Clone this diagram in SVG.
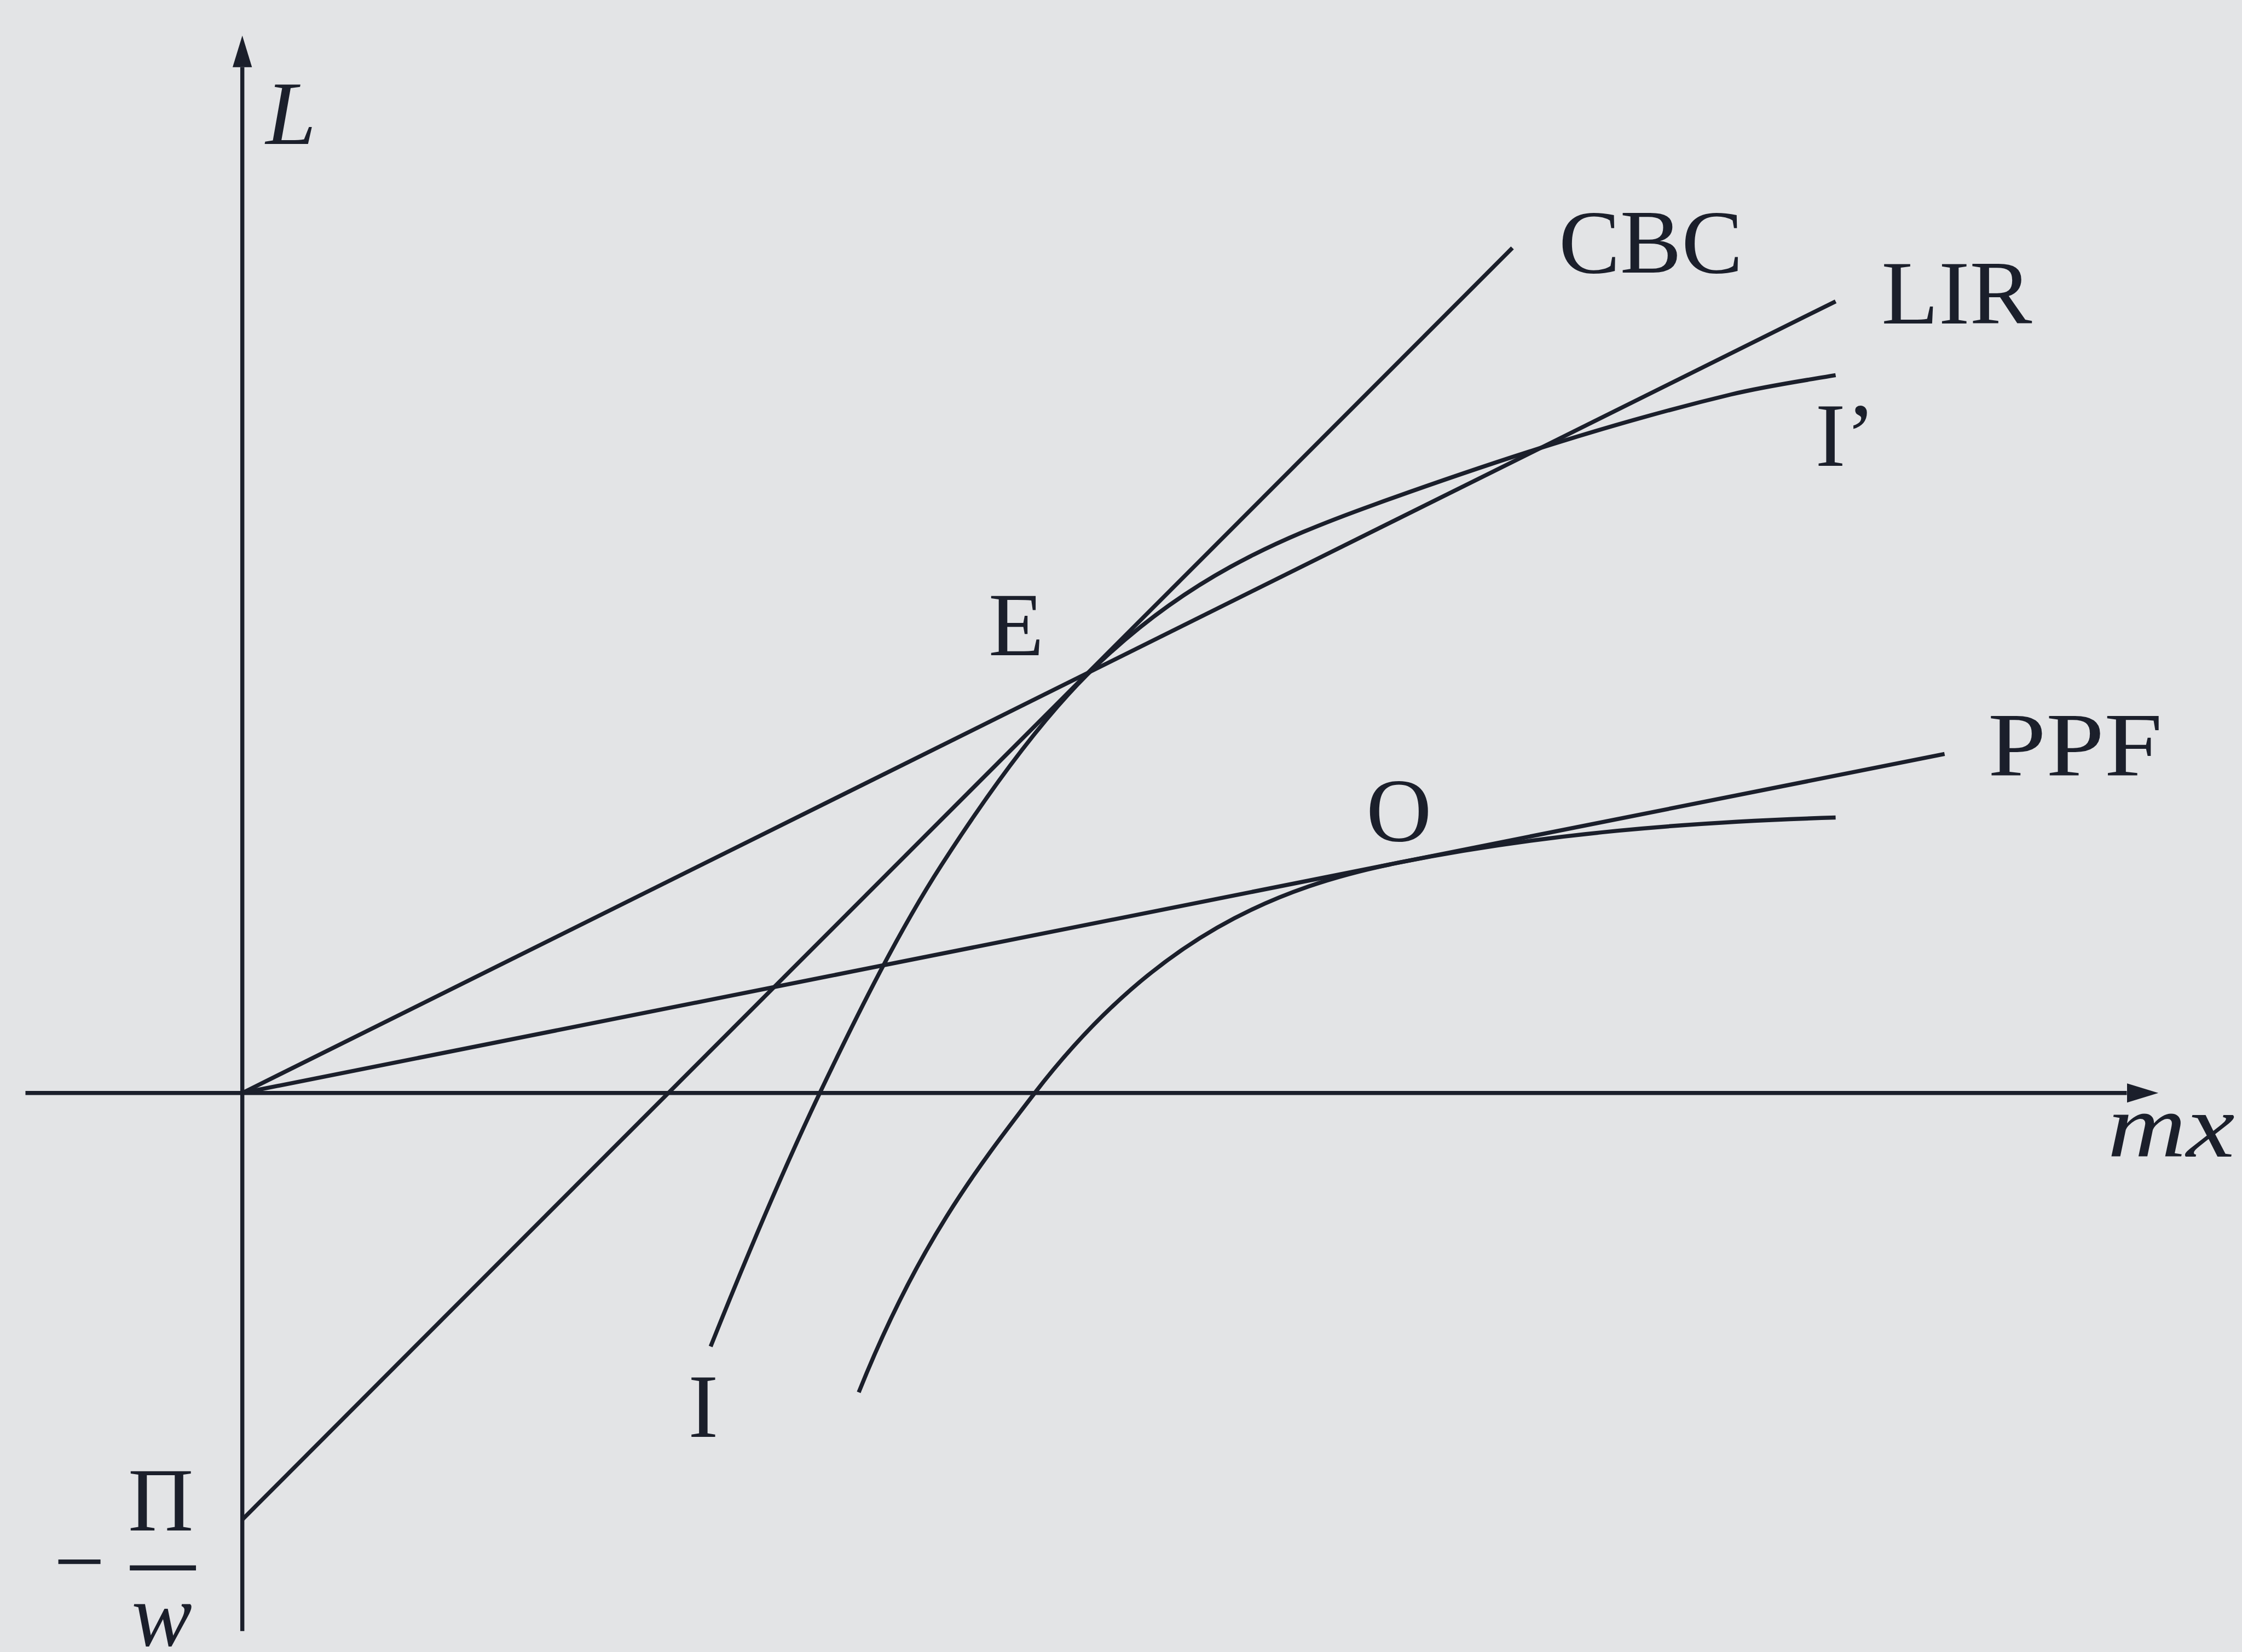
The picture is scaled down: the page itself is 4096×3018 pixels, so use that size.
<svg xmlns="http://www.w3.org/2000/svg" width="4096" height="3018" viewBox="0 0 4096 3018">
  <style>
    .ln { fill: none; stroke: #1b1f2b; stroke-width: 8; stroke-linecap: butt; stroke-linejoin: round; }
    .lbl { font-family: "Liberation Serif", "Times New Roman", serif; font-size: 178px; fill: #1b1f2b; }
    .it { font-style: italic; }
  </style>
  <defs>
    <marker id="arrow" markerUnits="userSpaceOnUse" markerWidth="70" markerHeight="44" viewBox="0 -22 70 44" refX="0" refY="0" orient="auto">
      <path d="M0,-19 L62,0 L0,19 Z" fill="#1b1f2b"/>
    </marker>
  </defs>
  <rect x="0" y="0" width="4096" height="3018" fill="#e3e4e6"/>
  <g transform="scale(0.93)">
    <g id="axes">
      <line class="ln" x1="50" y1="2147" x2="4178" y2="2147" marker-end="url(#arrow)"/>
      <line class="ln" x1="476" y1="3204" x2="476" y2="132" marker-end="url(#arrow)"/>
    </g>
    <g id="connectors">
      <path id="cbc-line" class="ln" d="M476,2985 L2971,487"/>
      <path id="lir-line" class="ln" d="M476,2147 L3606,592"/>
      <path id="ppf-line" class="ln" d="M476,2147 L3820,1481"/>
      <path id="curve-I" class="ln" d="M1396,2645 C1467.3,2466.7 1538.7,2297.8 1610,2148 C1689.7,1980.7 1769.3,1823.5 1849,1700 C1944.3,1552.2 2039.7,1421.3 2135,1326 C2323.3,1137.7 2511.7,1058.8 2700,991 C2933.3,907 3166.7,831 3400,775 C3468.7,758.5 3537.3,748.7 3606,737"/>
      <path id="curve-lower" class="ln" d="M1687,2735 C1802,2447.5 1917,2297.5 2032,2148 C2271.3,1837 2510.7,1741.7 2750,1694 C3035.3,1637.1 3320.7,1614.6 3606,1606"/>
    </g>
    <g id="labels">
      <text id="label-L" class="lbl it" x="522" y="283">L</text>
      <text id="label-mx" class="lbl it" x="4140" y="2272" textLength="250" lengthAdjust="spacingAndGlyphs">mx</text>
      <text id="label-CBC" class="lbl" x="3062" y="536" textLength="362" lengthAdjust="spacingAndGlyphs">CBC</text>
      <text id="label-LIR" class="lbl" x="3696" y="636" textLength="296" lengthAdjust="spacingAndGlyphs">LIR</text>
      <text id="label-Iprime" class="lbl" x="3566" y="915">I’</text>
      <text id="label-E" class="lbl" x="1942" y="1287">E</text>
      <text id="label-PPF" class="lbl" x="3905" y="1524" textLength="343" lengthAdjust="spacingAndGlyphs">PPF</text>
      <text id="label-O" class="lbl" x="2684" y="1652">O</text>
      <text id="label-I" class="lbl" x="1352" y="2823">I</text>
      <g id="label-intercept">
        <text class="lbl" x="106" y="3127">−</text>
        <text class="lbl" x="316" y="3006" text-anchor="middle">Π</text>
        <line class="ln" x1="255" y1="3080" x2="385" y2="3080" style="stroke-width:10"/>
        <text class="lbl it" x="318" y="3232" text-anchor="middle">w</text>
      </g>
    </g>
  </g>
</svg>
